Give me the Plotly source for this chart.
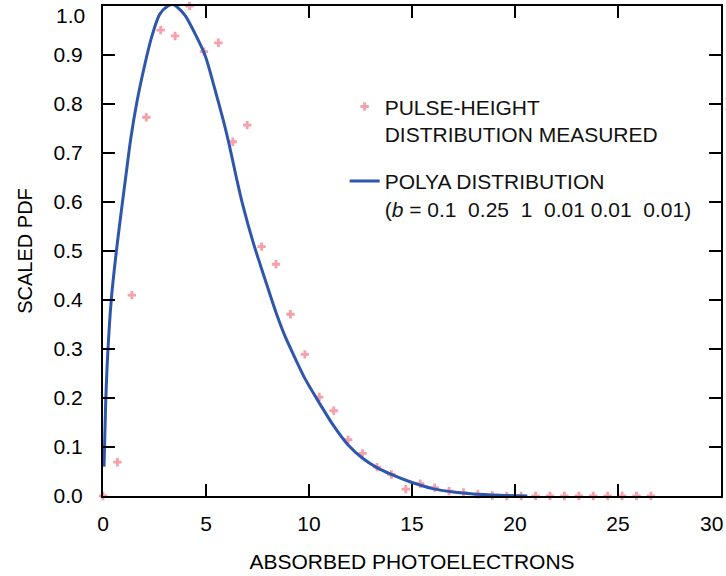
import plotly.graph_objects as go

# Measured pulse-height distribution (x step 0.7 photoelectrons)
meas_x = [0.0, 0.7, 1.4, 2.1, 2.8, 3.5, 4.2, 4.9, 5.6, 6.3, 7.0, 7.7, 8.4, 9.1, 9.8,
          10.5, 11.2, 11.9, 12.6, 13.3, 14.0, 14.7, 15.4, 16.1, 16.8, 17.5, 18.2, 18.9,
          19.6, 20.3, 21.0, 21.7, 22.4, 23.1, 23.8, 24.5, 25.2, 25.9, 26.6]
meas_y = [0.0, 0.069, 0.41, 0.773, 0.951, 0.939, 1.0, 0.907, 0.925, 0.723, 0.757, 0.509,
          0.473, 0.371, 0.289, 0.202, 0.174, 0.115, 0.087, 0.059, 0.044, 0.014, 0.025,
          0.017, 0.010, 0.007, 0.0035, 0.001, 0.0, 0.0, 0.0, 0.0, 0.0, 0.0, 0.0, 0.0,
          0.0, 0.0, 0.0]

# Polya distribution curve
polya_x = [0.05, 0.13, 0.23, 0.40, 0.65, 0.90, 1.10, 1.35, 1.65, 2.00, 2.35, 2.75, 3.15,
           3.40, 3.60, 4.00, 4.45, 4.95, 5.40, 5.85, 6.10, 6.50, 6.75, 7.30, 7.65, 8.00,
           8.43, 8.80, 9.24, 9.80, 10.5, 11.2, 11.9, 12.6, 13.3, 14.0, 14.9, 16.0, 17.0,
           18.0, 19.3, 20.6]
polya_y = [0.06, 0.19, 0.29, 0.40, 0.50, 0.585, 0.65, 0.73, 0.805, 0.875, 0.935, 0.983, 1.0,
           1.003, 0.998, 0.98, 0.945, 0.90, 0.835, 0.765, 0.722, 0.645, 0.60, 0.516, 0.47,
           0.425, 0.371, 0.33, 0.289, 0.24, 0.19, 0.143, 0.104, 0.077, 0.058, 0.044, 0.029,
           0.015, 0.008, 0.004, 0.0015, 0.0]

x_ticks = [0, 5, 10, 15, 20, 25, 30]
y_ticks = [0.0, 0.1, 0.2, 0.3, 0.4, 0.5, 0.6, 0.7, 0.8, 0.9, 1.0]

FONT = "Liberation Sans, Arial, Helvetica, sans-serif"

# Edge labels (last tick on each axis) are set as annotations so they stay inside the page
x_text = [str(v) for v in x_ticks]
y_text = [f"{v:.1f}" for v in y_ticks]
x_last, y_last = x_text[-1], y_text[-1]
x_text[-1] = ""
y_text[-1] = ""

fig = go.Figure()
fig.add_trace(go.Scatter(
    x=meas_x, y=meas_y, mode="markers",
    name="PULSE-HEIGHT<br>DISTRIBUTION MEASURED",
    marker=dict(symbol="cross", size=7, color="rgba(240,80,100,0.55)", line=dict(width=0)),
    cliponaxis=False, legendgroup="a",
))
fig.add_trace(go.Scatter(
    x=polya_x, y=polya_y, mode="lines",
    name="POLYA DISTRIBUTION<br>(<i>b</i> = 0.1  0.25  1  0.01 0.01  0.01)",
    line=dict(color="#2f56ad", width=3, shape="spline", smoothing=0.8),
    legendgroup="b",
))

axis_common = dict(
    showline=True, linecolor="black", linewidth=2, mirror="ticks",
    ticks="inside", ticklen=12, tickwidth=1.5, tickcolor="black",
    showgrid=False, zeroline=False, automargin=False,
    tickfont=dict(family=FONT, size=21, color="black"),
)

fig.update_layout(
    width=726, height=576,
    margin=dict(l=103, r=5, t=6, b=80),
    paper_bgcolor="white", plot_bgcolor="white",
    font=dict(family=FONT, color="black"),
    showlegend=True,
    legend=dict(
        x=0.391, y=0.836, xanchor="left", yanchor="top",
        bgcolor="rgba(0,0,0,0)", font=dict(family=FONT, size=21, color="#111"),
        valign="top", tracegroupgap=17, traceorder="grouped",
    ),
    xaxis=dict(
        range=[0, 30.001], tickvals=x_ticks, ticktext=x_text,
        title=dict(text="ABSORBED PHOTOELECTRONS", font=dict(family=FONT, size=21), standoff=20),
        ticklabelstandoff=8,
        **axis_common,
    ),
    yaxis=dict(
        range=[0, 1.0001], tickvals=y_ticks, ticktext=y_text,
        title=dict(text="SCALED PDF", font=dict(family=FONT, size=20), standoff=16),
        ticklabelstandoff=14,
        **axis_common,
    ),
    annotations=[
        dict(text=y_last, xref="paper", x=0, xshift=-16, xanchor="right",
             yref="y", y=y_ticks[-1], yshift=-9, yanchor="middle", showarrow=False,
             font=dict(family=FONT, size=21, color="black")),
        dict(text=x_last, xref="x", x=x_ticks[-1], xshift=4, xanchor="right",
             yref="paper", y=0, yshift=-27, yanchor="middle", showarrow=False,
             font=dict(family=FONT, size=21, color="black")),
    ],
)

fig.write_html("out.html")
